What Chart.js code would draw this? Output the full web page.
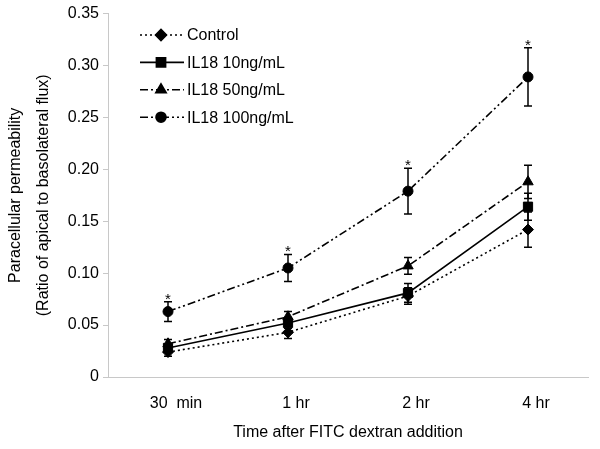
<!DOCTYPE html>
<html>
<head>
<meta charset="utf-8">
<script src="https://cdn.jsdelivr.net/npm/chart.js@4/dist/chart.umd.min.js"></script>
<style>
html,body{margin:0;padding:0;background:#fff;}
#wrap{width:600px;height:449px;position:relative;}
</style>
</head>
<body>
<div id="wrap"><canvas id="c" width="600" height="449"></canvas></div>
<script>
// ---- data ----
const categories = ['30  min', '1 hr', '2 hr', '4 hr'];
const seriesNames = ['Control', 'IL18 10ng/mL', 'IL18 50ng/mL', 'IL18 100ng/mL'];
const control = [0.024, 0.043, 0.078, 0.142];
const controlErr = [0.004, 0.006, 0.008, 0.017];
const il18_10 = [0.028, 0.052, 0.081, 0.164];
const il18_10Err = [0.004, 0.005, 0.009, 0.013];
const il18_50 = [0.032, 0.058, 0.107, 0.188];
const il18_50Err = [0.004, 0.005, 0.008, 0.016];
const il18_100 = [0.063, 0.105, 0.179, 0.289];
const il18_100Err = [0.0095, 0.013, 0.022, 0.028];
const significant100 = [true, true, true, true];
const yTicks = [0, 0.05, 0.10, 0.15, 0.20, 0.25, 0.30, 0.35];

const FONT = "'Liberation Sans', Arial, sans-serif";

function ds(label, data, err, style, radius, dash, sig) {
  return {
    label, data, err, sig,
    borderColor: '#000', backgroundColor: '#000',
    borderWidth: 1.6, borderDash: dash,
    pointStyle: style, pointRadius: radius, pointHoverRadius: radius,
    pointBackgroundColor: '#000', pointBorderColor: '#000', pointBorderWidth: 1,
    tension: 0, fill: false
  };
}

const datasets = [
  ds(seriesNames[0], control, controlErr, 'rectRot', 5.5, [2, 3], null),
  ds(seriesNames[1], il18_10, il18_10Err, 'rect', 6.5, [], null),
  ds(seriesNames[2], il18_50, il18_50Err, 'triangle', 6, [8, 3, 2, 3], null),
  ds(seriesNames[3], il18_100, il18_100Err, 'circle', 5, [8, 3, 2, 3, 2, 3], significant100)
];

const errorBars = {
  id: 'errorBars',
  afterDatasetsDraw(chart) {
    const ctx = chart.ctx, y = chart.scales.y;
    ctx.save();
    ctx.strokeStyle = '#000';
    ctx.lineWidth = 1.5;
    ctx.setLineDash([]);
    chart.data.datasets.forEach((d, i) => {
      const meta = chart.getDatasetMeta(i);
      meta.data.forEach((pt, j) => {
        const v = d.data[j], e = d.err[j];
        const yt = y.getPixelForValue(v + e), yb = y.getPixelForValue(v - e);
        const x = pt.x;
        ctx.beginPath();
        ctx.moveTo(x, yt); ctx.lineTo(x, yb);
        ctx.moveTo(x - 4, yt); ctx.lineTo(x + 4, yt);
        ctx.moveTo(x - 4, yb); ctx.lineTo(x + 4, yb);
        ctx.stroke();
        if (d.sig && d.sig[j]) {
          ctx.fillStyle = '#000';
          ctx.font = '15px ' + FONT;
          ctx.textAlign = 'center';
          ctx.textBaseline = 'alphabetic';
          ctx.fillText('*', x, yt + 2);
        }
      });
    });
    ctx.restore();
  }
};

const customLegend = {
  id: 'customLegend',
  afterDraw(chart) {
    const ctx = chart.ctx;
    ctx.save();
    chart.data.datasets.forEach((d, i) => {
      const yy = 35 + i * 27.4;
      ctx.strokeStyle = '#000';
      ctx.lineWidth = 1.6;
      ctx.setLineDash(d.borderDash);
      ctx.beginPath();
      ctx.moveTo(140, yy); ctx.lineTo(184, yy);
      ctx.stroke();
      ctx.setLineDash([]);
      ctx.fillStyle = '#000';
      Chart.helpers.drawPoint(ctx, {pointStyle: d.pointStyle, radius: d.pointRadius, rotation: 0, borderWidth: 1}, 161, yy);
      ctx.font = '16px ' + FONT;
      ctx.textAlign = 'left';
      ctx.textBaseline = 'middle';
      ctx.fillText(d.label, 187, yy + 1);
    });
    ctx.restore();
  }
};

new Chart(document.getElementById('c'), {
  type: 'line',
  data: { labels: categories, datasets },
  options: {
    responsive: false,
    animation: false,
    devicePixelRatio: 1,
    layout: { padding: { top: 4, right: 12, left: 0, bottom: 0 } },
    plugins: { legend: { display: false }, tooltip: { enabled: false } },
    scales: {
      x: {
        type: 'category',
        offset: true,
        grid: { display: false, drawOnChartArea: false, offset: false, drawTicks: true, tickLength: 5, color: '#c8c8c8' },
        border: { display: true, color: '#c8c8c8', width: 1 },
        ticks: { color: '#000', font: { family: FONT, size: 16 }, padding: 12, maxRotation: 0, labelOffset: 8 },
        title: { display: true, text: 'Time after FITC dextran addition', color: '#000', font: { family: FONT, size: 16 }, padding: { top: 8, bottom: 7 } },
        afterFit(s) { s.height = 72; }
      },
      y: {
        min: 0, max: 0.35,
        afterBuildTicks(s) { s.ticks = yTicks.map(v => ({ value: v })); },
        grid: { drawOnChartArea: false, drawTicks: true, tickLength: 5, color: '#c8c8c8' },
        border: { display: true, color: '#c8c8c8', width: 1 },
        ticks: {
          color: '#000', font: { family: FONT, size: 16 }, padding: 4,
          callback: (v) => v === 0 ? '0' : v.toFixed(2)
        },
        title: { display: true, text: ['Paracellular permeability', '(Ratio of apical to basolateral flux)'], color: '#000', font: { family: FONT, size: 16, lineHeight: 1.75 }, padding: { top: 2, bottom: 4 } },
        afterFit(s) { s.width = 108; }
      }
    }
  },
  plugins: [errorBars, customLegend]
});
</script>
</body>
</html>
